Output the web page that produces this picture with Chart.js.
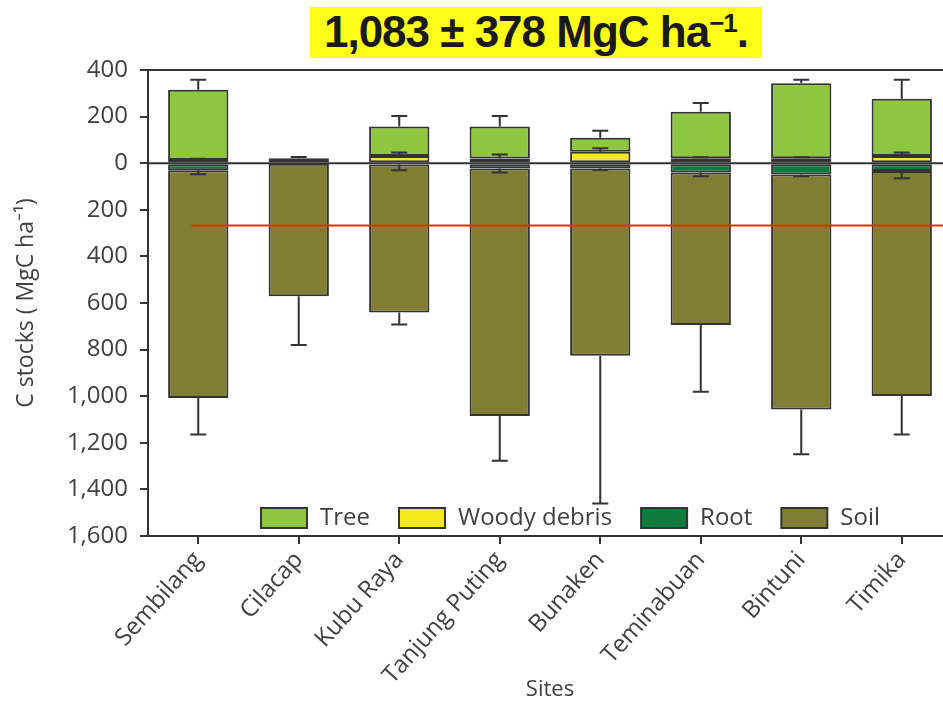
<!DOCTYPE html>
<html>
<head>
<meta charset="utf-8">
<script src="https://cdn.jsdelivr.net/npm/chart.js@4.4.1/dist/chart.umd.min.js"></script>
<style>
  body { margin: 0; background: #fff; overflow: hidden; }
  #wrap { position: relative; width: 943px; height: 705px; overflow: hidden; }
  canvas { position: absolute; left: 0; top: 0; }
  #title {
    position: absolute; left: 310px; top: 7px; width: 452px; height: 51px;
    background: #ffff1a; text-align: center; line-height: 51px; white-space: nowrap;
  }
  #title span.txt {
    display: inline-block; color: #1a1a1a; transform-origin: center;
    font: bold 44px 'Liberation Sans', Arial, sans-serif; letter-spacing: -1px;
  }
  #title .sup { font-size: 26px; position: relative; top: -15px; }
</style>
</head>
<body>
<div id="wrap">
  <canvas id="chart" width="952" height="705"></canvas>
  <div id="title"><span class="txt">1,083 ± 378 MgC ha<span class="sup">−1</span>.</span></div>
</div>
<script>
// Sites and carbon pools (MgC ha-1); below-ground pools are negative
const sites = ['Sembilang', 'Cilacap', 'Kubu Raya', 'Tanjung Puting', 'Bunaken', 'Teminabuan', 'Bintuni', 'Timika'];
const tree  = [301, 0, 127, 138, 60, 200, 322, 246];
const woody = [14, 21, 31, 20, 49, 21, 21, 31];
const root  = [-30, -2, -6, -23, -23, -40, -49, -33];
const soil  = [-978, -569, -635, -1062, -803, -654, -1008, -966];

// error bar lengths
const treeErr  = [43, 0, 45, 45, 30, 37, 15, 81];
const woodyErr = [5, 6, 15, 17, 15, 5, 5, 15];
const rootErr  = [17, 0, 24, 17, 6, 16, 7, 32];
const soilErr  = [156, 209, 51, 192, 634, 287, 192, 165];

const yTicks = { min: -1600, max: 400, step: 200 };
const redLineValue = -267;

const FONT = "'Open Sans', sans-serif";
const TEXT = '#404040';
const AXIS = '#333333';

const colors = { tree: '#8ec63f', woody: '#f4e91a', root: '#0b7c3d', soil: '#807e35' };
const legendOrder = ['Tree', 'Woody debris', 'Root', 'Soil'];

// squeeze the headline into its highlight (condensed look)
const titleSpan = document.querySelector('#title span.txt');
titleSpan.style.transform = 'scaleX(' + Math.min(1, 440 / titleSpan.offsetWidth) + ')';

// extra lines: top frame, zero line, red reference line, error bars
const overlays = {
    id: 'overlays',
    afterDatasetsDraw(chart) {
        const { ctx, chartArea, scales: { x, y } } = chart;
        const zero = y.getPixelForValue(0);
        ctx.save();
        ctx.strokeStyle = AXIS;
        ctx.lineWidth = 2;
        ctx.beginPath();
        ctx.moveTo(chartArea.left, chartArea.top);
        ctx.lineTo(chartArea.right, chartArea.top);
        ctx.moveTo(chartArea.left, zero);
        ctx.lineTo(chartArea.right, zero);
        ctx.stroke();

        // error bars
        chart.data.datasets.forEach((ds, i) => {
            chart.getDatasetMeta(i).data.forEach((bar, j) => {
                const err = ds.errors[j];
                if (!err) return;
                const len = Math.abs(y.getPixelForValue(err) - zero);
                const y1 = bar.y + (ds.data[j] >= 0 ? -len : len);
                ctx.beginPath();
                ctx.moveTo(bar.x, bar.y);
                ctx.lineTo(bar.x, y1);
                ctx.moveTo(bar.x - 8, y1);
                ctx.lineTo(bar.x + 8, y1);
                ctx.stroke();
            });
        });

        // red line
        const ry = y.getPixelForValue(redLineValue);
        ctx.strokeStyle = '#ff2a00';
        ctx.lineWidth = 2;
        ctx.beginPath();
        ctx.moveTo(x.getPixelForValue(0) - 7, ry);
        ctx.lineTo(chartArea.right, ry);
        ctx.stroke();
        ctx.restore();
    },
    afterDraw(chart) {
        // legend inside the plot, bottom
        const { ctx, chartArea } = chart;
        ctx.save();
        ctx.font = '24px ' + FONT;
        ctx.textBaseline = 'middle';
        let lx = chartArea.left + 113;
        const ly = chartArea.bottom - 18;
        legendOrder.forEach(name => {
            const ds = chart.data.datasets.find(d => d.label === name);
            ctx.fillStyle = ds.backgroundColor;
            ctx.fillRect(lx, ly - 10, 46, 20);
            ctx.strokeStyle = AXIS;
            ctx.lineWidth = 2;
            ctx.strokeRect(lx, ly - 10, 46, 20);
            ctx.fillStyle = TEXT;
            ctx.fillText(name, lx + 59, ly);
            lx += 59 + ctx.measureText(name).width + 29;
        });
        ctx.restore();
    }
};

const barStyle = { borderColor: AXIS, borderWidth: 2, borderSkipped: false, categoryPercentage: 1, barPercentage: 0.6 };

new Chart(document.getElementById('chart'), {
    type: 'bar',
    data: {
        labels: sites,
        datasets: [
            { label: 'Woody debris', data: woody, errors: woodyErr, backgroundColor: colors.woody, ...barStyle },
            { label: 'Tree', data: tree, errors: treeErr, backgroundColor: colors.tree, ...barStyle },
            { label: 'Root', data: root, errors: rootErr, backgroundColor: colors.root, ...barStyle },
            { label: 'Soil', data: soil, errors: soilErr, backgroundColor: colors.soil, ...barStyle }
        ]
    },
    options: {
        responsive: false,
        animation: false,
        devicePixelRatio: 1,
        layout: { padding: { top: 70, left: 0, right: 0, bottom: 0 } },
        plugins: {
            legend: { display: false },
            tooltip: { enabled: false }
        },
        scales: {
            x: {
                stacked: true,
                afterFit: s => { s.height = 169; },
                grid: { drawOnChartArea: false, offset: false, tickLength: 8, color: AXIS, lineWidth: 2 },
                border: { display: true, color: AXIS, width: 2 },
                ticks: { color: TEXT, font: { family: FONT, size: 24 }, minRotation: 48, maxRotation: 48, autoSkip: false, padding: 2 },
                title: { display: true, text: 'Sites', color: TEXT, font: { family: FONT, size: 22 }, padding: { top: 0, bottom: 2 } }
            },
            y: {
                stacked: true,
                min: yTicks.min,
                max: yTicks.max,
                afterFit: s => { s.width = 148; },
                grid: { drawOnChartArea: false, tickLength: 8, color: AXIS, lineWidth: 2 },
                border: { display: true, color: AXIS, width: 2 },
                ticks: {
                    stepSize: yTicks.step,
                    color: TEXT,
                    padding: 12,
                    font: { family: FONT, size: 24 },
                    callback: v => Math.abs(v).toLocaleString('en-US')
                },
                title: { display: true, text: 'C stocks ( MgC ha⁻¹)', color: TEXT, font: { family: FONT, size: 23 }, padding: { top: 13, bottom: 0 } }
            }
        }
    },
    plugins: [overlays]
});
</script>
</body>
</html>
